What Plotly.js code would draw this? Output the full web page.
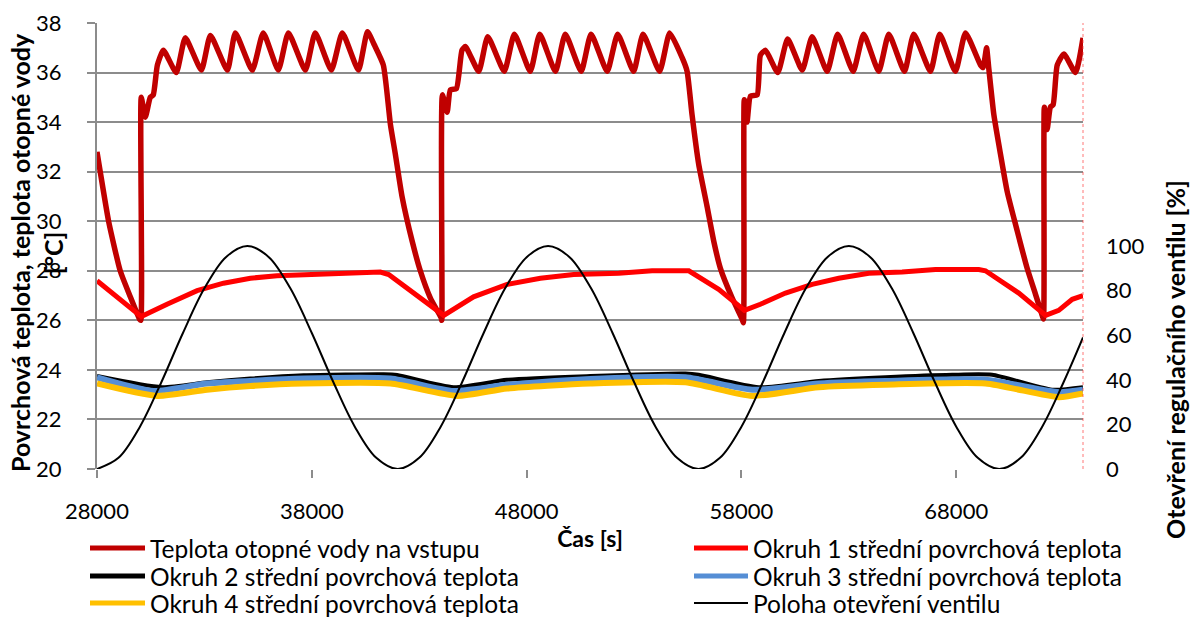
<!DOCTYPE html>
<html>
<head>
<meta charset="utf-8">
<script src="https://cdn.plot.ly/plotly-3.0.1.min.js"></script>
<style>html,body{margin:0;padding:0;background:#fff;}#chart{width:1193px;height:621px;}</style>
</head>
<body>
<div id="chart"></div>
<script>
// Teplota otopné vody na vstupu
const waterTime = [28000,28150,28540,29080,29550,29980,30040,30060,30250,30480,30620,30810,31090,31690,32110,32860,33280,34070,34440,35230,35740,36440,36910,37700,38160,38910,39420,40170,40590,40920,41330,41660,41890,42200,42670,43050,43520,44020,44050,44080,44300,44450,44730,44990,45150,45770,46190,46960,47430,48170,48610,49340,49800,50540,51000,51750,52240,52980,53420,54190,54660,55240,55470,55700,56010,56400,56710,57020,57570,58030,58090,58130,58260,58420,58730,58880,59120,59690,60150,60830,61290,61990,62480,63200,63690,64390,64860,65590,66020,66800,67230,67960,68430,69130,69250,69410,69510,69750,70060,70370,70840,71300,71690,72000,72060,72100,72230,72380,72510,72700,73010,73550,73900];
const waterTemp = [32.8,32.0,30.0,28.0,26.95,26.05,26.0,35.0,34.2,35.0,35.1,36.3,36.9,36.0,37.4,36.1,37.5,36.1,37.6,36.1,37.6,36.1,37.6,36.1,37.6,36.1,37.6,36.1,37.65,37.1,36.3,33.9,32.7,31.0,29.2,28.0,26.9,26.1,26.0,35.1,34.4,35.3,35.35,36.9,37.05,36.05,37.45,36.05,37.55,36.05,37.55,36.05,37.55,36.05,37.55,36.05,37.55,36.05,37.55,36.05,37.6,36.6,36.05,34.3,32.3,30.6,29.2,28.1,26.9,26.05,25.9,34.9,34.0,35.05,35.1,36.7,36.9,36.0,37.35,36.1,37.45,36.05,37.55,36.05,37.55,36.05,37.55,36.05,37.55,36.05,37.55,36.05,37.6,36.3,36.2,37.0,36.2,34.3,32.7,31.2,29.6,28.1,27.05,26.2,26.05,34.6,33.7,34.6,34.7,36.3,36.75,36.0,37.4];

// Okruh 1 střední povrchová teplota
const c1Time = [28000,30060,31260,32660,33890,35140,36380,37780,39330,41190,41580,43980,44140,45530,47090,48640,50190,52290,53840,55550,56940,58140,58880,60050,61290,62530,63930,65480,67030,69050,69360,70910,72160,72770,73400,73900];
const c1Temp = [27.6,26.15,26.65,27.2,27.5,27.7,27.8,27.85,27.9,27.95,27.85,26.3,26.2,26.95,27.45,27.7,27.85,27.9,28.0,28.0,27.25,26.4,26.65,27.1,27.45,27.7,27.9,27.95,28.05,28.05,28.0,27.1,26.2,26.4,26.85,27.0];

// Okruh 2 střední povrchová teplota
const c2Time = [28000,31030,33120,35140,37620,41340,41970,44600,47090,50970,55390,56010,58800,61600,64700,67810,69670,72460,73900];
const c2Temp = [23.75,23.3,23.5,23.65,23.78,23.82,23.79,23.3,23.6,23.75,23.85,23.8,23.3,23.55,23.7,23.8,23.8,23.2,23.3];

// Okruh 3 střední povrchová teplota
const c3Time = [28000,30640,33120,37620,41660,44600,47090,50970,55390,58500,61600,64700,69360,72770,73900];
const c3Temp = [23.7,23.15,23.45,23.65,23.65,23.15,23.4,23.63,23.7,23.2,23.45,23.55,23.6,23.1,23.2];

// Okruh 4 střední povrchová teplota
const c4Time = [28000,30790,33120,35140,37620,41660,44760,47090,50970,55390,58500,61600,64700,69360,72770,73900];
const c4Temp = [23.45,22.95,23.2,23.35,23.45,23.45,22.95,23.25,23.45,23.5,22.95,23.3,23.4,23.45,22.9,23.05];

// Poloha otevření ventilu [%]
const valveTime = [28000,29000,30000,31000,32000,33000,34000,35000,36000,37000,38000,39000,40000,41000,42000,43000,44000,45000,46000,47000,48000,49000,50000,51000,52000,53000,54000,55000,56000,57000,58000,59000,60000,61000,62000,63000,64000,65000,66000,67000,68000,69000,70000,71000,72000,73000,73900];
const valvePos = [0,5,19,39,61,81,95,100,95,81,61,39,19,5,0,5,19,39,61,81,95,100,95,81,61,39,19,5,0,5,19,39,61,81,95,100,95,81,61,39,19,5,0,5,19,39,59];

const seriesNames = ['Teplota otopné vody na vstupu','Okruh 1 střední povrchová teplota','Okruh 2 střední povrchová teplota','Okruh 3 střední povrchová teplota','Okruh 4 střední povrchová teplota','Poloha otevření ventilu'];
const seriesColors = ['#C00000','#FF0000','#000000','#558ED5','#FFC000','#000000'];
const xTicks = [28000,38000,48000,58000,68000];
const yTicks = [20,22,24,26,28,30,32,34,36,38];
const y2Ticks = [0,20,40,60,80,100];
const y3Ticks = [0,20,40,60,80,100,120,140,160,180,200];

const FONT = 'Lato, "Open Sans", sans-serif';
const GRID = '#8c8c8c';
const W = 1193, H = 621;
const M = {l: 97, r: 110, t: 23, b: 152};
const PW = W - M.l - M.r, PH = H - M.t - M.b;
const px2x = px => (px - M.l) / PW;
const py2y = py => (H - M.b - py) / PH;

const widths = [5.5, 5, 4, 6, 6, 2];
const traces = [
  {x: waterTime, y: waterTemp, name: seriesNames[0], type:'scatter', mode:'lines', line:{color:seriesColors[0], width:widths[0], shape:'spline', smoothing:0.5}},
  {x: c1Time, y: c1Temp, name: seriesNames[1], type:'scatter', mode:'lines', line:{color:seriesColors[1], width:widths[1]}},
  {x: c2Time, y: c2Temp, name: seriesNames[2], type:'scatter', mode:'lines', line:{color:seriesColors[2], width:widths[2], shape:'spline', smoothing:0.6}},
  {x: c3Time, y: c3Temp, name: seriesNames[3], type:'scatter', mode:'lines', line:{color:seriesColors[3], width:widths[3], shape:'spline', smoothing:0.6}},
  {x: c4Time, y: c4Temp, name: seriesNames[4], type:'scatter', mode:'lines', line:{color:seriesColors[4], width:widths[4], shape:'spline', smoothing:0.6}},
  {x: valveTime, y: valvePos, name: seriesNames[5], type:'scatter', mode:'lines', yaxis:'y2', line:{color:seriesColors[5], width:widths[5], shape:'spline', smoothing:1}}
];

// custom two-column legend (Excel style)
const legRows = [548, 576, 603];
const legCols = [{l0: 90, l1: 145, tx: 148}, {l0: 694, l1: 748, tx: 751}];
const legendShapes = [], legendAnns = [];
seriesNames.forEach((nm, i) => {
  const col = legCols[i % 2], row = legRows[Math.floor(i / 2)];
  legendShapes.push({type:'line', xref:'paper', yref:'paper', x0:px2x(col.l0), x1:px2x(col.l1), y0:py2y(row), y1:py2y(row),
    line:{color:seriesColors[i], width: i === 5 ? 2 : 5}});
  legendAnns.push({text:nm, xref:'paper', yref:'paper', x:px2x(col.tx), y:py2y(row), xanchor:'left', yanchor:'middle',
    showarrow:false, font:{family:FONT, size:24.5, color:'#000'}});
});

const layout = {
  width: W, height: H,
  margin: M,
  paper_bgcolor: '#ffffff', plot_bgcolor: '#ffffff',
  font: {family: FONT, size: 22, color: '#000'},
  showlegend: false,
  xaxis: {
    range: [28000, 73900], tickvals: xTicks, ticktext: xTicks.map(String),
    showgrid: false, zeroline: false, showline: false,
    ticks: 'outside', ticklen: 8, tickwidth: 2, tickcolor: GRID,
    ticklabelstandoff: 15,
    tickfont: {family: FONT, size: 22},
    title: {text: '<b>Čas [s]</b>', font: {family: FONT, size: 23}, standoff: 1}
  },
  yaxis: {
    range: [20, 38], tickvals: yTicks, ticktext: yTicks.map(String),
    showgrid: true, gridcolor: GRID, gridwidth: 2, zeroline: false,
    showline: true, linecolor: GRID, linewidth: 2,
    ticks: 'outside', ticklen: 8, tickwidth: 2, tickcolor: GRID,
    ticklabelstandoff: 21,
    tickfont: {family: FONT, size: 22}
  },
  yaxis2: {
    overlaying: 'y', side: 'right', range: [0, 200],
    tickvals: y2Ticks, ticktext: y2Ticks.map(String),
    showgrid: false, zeroline: false, showline: false, ticks: '',
    ticklabelstandoff: 22,
    tickfont: {family: FONT, size: 22}
  },
  yaxis3: {
    overlaying: 'y', side: 'right', range: [0, 200],
    tickvals: y3Ticks, showticklabels: false,
    showgrid: false, zeroline: false, showline: false,
    ticks: 'outside', ticklen: 4, tickwidth: 1, tickcolor: 'rgba(255,0,0,0.6)'
  },
  shapes: [
    {type:'line', xref:'paper', yref:'paper', x0:1, x1:1, y0:0, y1:1, line:{color:'rgba(255,60,60,0.7)', width:1, dash:'dot'}}
  ].concat(legendShapes),
  annotations: [
    {text:'<b>Povrchová teplota, teplota otopné vody<br>[°C]</b>', textangle:-90, xref:'paper', yref:'paper', x:px2x(37), y:py2y(253), xanchor:'center', yanchor:'middle', showarrow:false, font:{family: FONT, size:25}},
    {text:'<b>Otevření regulačního ventilu [%]</b>', textangle:-90, xref:'paper', yref:'paper', x:px2x(1175), y:py2y(360), xanchor:'center', yanchor:'middle', showarrow:false, font:{family: FONT, size:25}}
  ].concat(legendAnns)
};

Plotly.newPlot('chart', traces, layout, {displayModeBar: false, responsive: false});
</script>
</body>
</html>
